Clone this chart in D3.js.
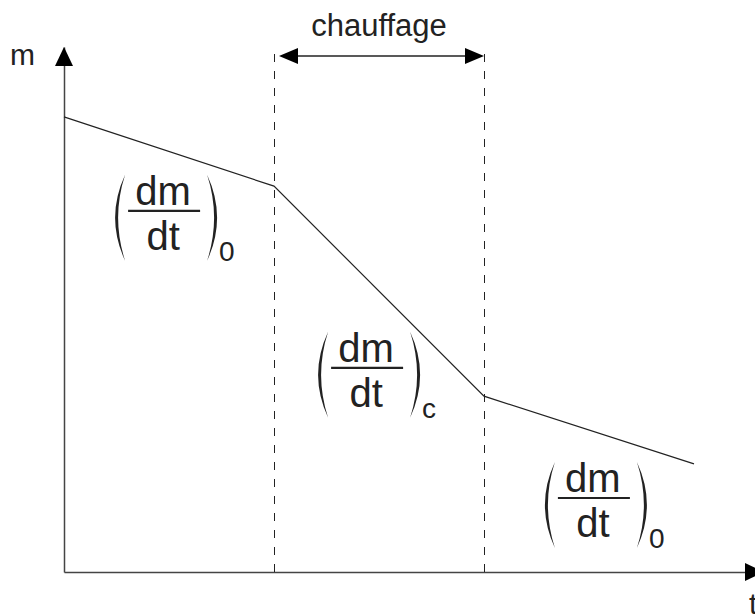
<!DOCTYPE html>
<html>
<head>
<meta charset="utf-8">
<script src="https://cdn.jsdelivr.net/npm/d3@7"></script>
<style>
  body { margin: 0; background: #fff; }
  text { font-family: "Liberation Sans", Arial, sans-serif; fill: #222; }
</style>
</head>
<body>
<svg id="canvas" width="755" height="615"></svg>
<script>
// Data
let timePoints = [0, 3, 6, 9];          // breaks of the mass curve
let massPoints = [8.67, 7.35, 3.35, 2.06];
let heatStart = 3, heatEnd = 6;          // heating window
let heatLabel = 'chauffage';
let slopeT = [1.43, 4.33, 7.57];         // where the slope labels sit
let slopeM = [6.88, 3.89, 1.41];
let slopeSub = ['0', 'c', '0'];

let svg = d3.select('#canvas');

// Scales
let x = d3.scaleLinear().domain([0, 10]).range([64, 764]);
let y = d3.scaleLinear().domain([0, 10]).range([572, 47]);

// Axes (no ticks, just the lines)
svg.append('g')
    .attr('transform', `translate(0,${y(0)})`)
    .call(d3.axisBottom(x).tickValues([]).tickSizeOuter(0))
    .select('.domain').attr('stroke', '#444').attr('stroke-width', 1.5);

svg.append('g')
    .attr('transform', `translate(${x(0)},0)`)
    .call(d3.axisLeft(y).tickValues([]).tickSizeOuter(0))
    .select('.domain').attr('stroke', '#444').attr('stroke-width', 1.5);

// Axis arrow heads
let arrowY = (tipX, tipY) => `M${tipX},${tipY}L${tipX - 9},${tipY + 19}L${tipX + 9},${tipY + 19}Z`;
let arrowX = (tipX, tipY) => `M${tipX},${tipY}L${tipX - 19},${tipY - 9}L${tipX - 19},${tipY + 9}Z`;
svg.append('path').attr('d', arrowY(x(0), y(10))).attr('fill', '#000');
svg.append('path').attr('d', arrowX(x(10), y(0))).attr('fill', '#000');

svg.append('text').attr('x', 10).attr('y', 65).attr('font-size', 30).text('m');
svg.append('text').attr('x', 749).attr('y', 614).attr('font-size', 30).text('t');

// Dashed heating boundaries
svg.selectAll('line.bound')
    .data([heatStart, heatEnd])
    .enter()
    .append('line')
    .attr('class', 'bound')
    .attr('x1', (d) => x(d) + 0.5)
    .attr('x2', (d) => x(d) + 0.5)
    .attr('y1', y(0))
    .attr('y2', y(10))
    .attr('stroke', '#222')
    .attr('stroke-width', 1)
    .attr('stroke-dasharray', '8,9');

// Double arrow for heating window
let arrowYPos = 56;
let leftTip = x(heatStart) + 5, rightTip = x(heatEnd);
svg.append('line')
    .attr('x1', leftTip + 10).attr('x2', rightTip - 10)
    .attr('y1', arrowYPos).attr('y2', arrowYPos)
    .attr('stroke', '#222').attr('stroke-width', 1.5);
svg.append('path')
    .attr('d', `M${leftTip},${arrowYPos}L${leftTip + 19},${arrowYPos - 8}L${leftTip + 19},${arrowYPos + 8}Z`)
    .attr('fill', '#000');
svg.append('path')
    .attr('d', `M${rightTip},${arrowYPos}L${rightTip - 19},${arrowYPos - 8}L${rightTip - 19},${arrowYPos + 8}Z`)
    .attr('fill', '#000');
svg.append('text')
    .attr('x', (x(heatStart) + x(heatEnd)) / 2)
    .attr('y', 36)
    .attr('text-anchor', 'middle')
    .attr('font-size', 31)
    .text(heatLabel);

// Mass curve
let line = d3.line().x((d) => x(d[0])).y((d) => y(d[1]));
svg.append('path')
    .datum(timePoints.map((t, i) => [t, massPoints[i]]))
    .attr('d', line)
    .attr('fill', 'none')
    .attr('stroke', '#222')
    .attr('stroke-width', 1.2);

// Slope labels (dm/dt) with big parentheses
let paren = (px, top, bottom, dir) => {
    // dir = -1 for '(' bulging left, +1 for ')' bulging right
    let midOuter = px + dir * 10;
    let midInner = px + dir * 7;
    let cOuter = 2 * midOuter - px;
    let cInner = 2 * midInner - px;
    return `M${px},${top}Q${cOuter},${(top + bottom) / 2} ${px},${bottom}` +
           `Q${cInner},${(top + bottom) / 2} ${px},${top}Z`;
};

slopeT.forEach((t, i) => {
    let cx = x(t), by = y(slopeM[i]);
    let g = svg.append('g');
    g.append('text').attr('x', cx - 1).attr('y', by - 6)
        .attr('text-anchor', 'middle').attr('font-size', 40).text('dm');
    g.append('line').attr('x1', cx - 36).attr('x2', cx + 36)
        .attr('y1', by).attr('y2', by)
        .attr('stroke', '#222').attr('stroke-width', 2.2);
    g.append('text').attr('x', cx - 1).attr('y', by + 39)
        .attr('text-anchor', 'middle').attr('font-size', 40).text('dt');
    g.append('path').attr('d', paren(cx - 39, by - 36, by + 50, -1)).attr('fill', '#222');
    g.append('path').attr('d', paren(cx + 43, by - 36, by + 50, 1)).attr('fill', '#222');
    g.append('text').attr('x', cx + 55).attr('y', by + 50)
        .attr('font-size', 28).text(slopeSub[i]);
});
</script>
</body>
</html>
